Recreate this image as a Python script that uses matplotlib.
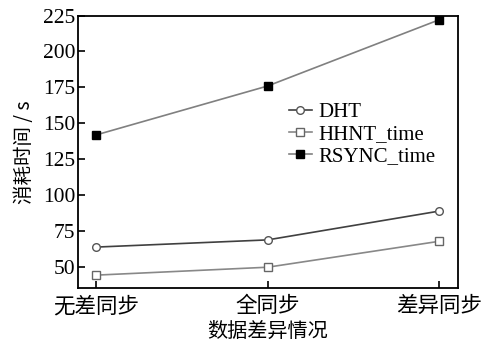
import matplotlib.pyplot as plt

# 数据
categories = ['无差同步', '全同步', '差异同步']
dht = [64, 69, 89]
hhnt_time = [44.5, 50, 68]
rsync_time = [142, 176, 222]
yticks = [50, 75, 100, 125, 150, 175, 200, 225]

plt.rcParams['font.family'] = ['Liberation Serif', 'Noto Sans CJK SC']
plt.rcParams['font.size'] = 14

fig, ax = plt.subplots(figsize=(4.95, 3.45), dpi=100)
fig.subplots_adjust(left=0.158, right=0.925, top=0.955, bottom=0.165)

x = range(len(categories))
ax.plot(x, dht, color='#404040', lw=1.2, marker='o', ms=5.5,
        mfc='white', mec='#555555', label='DHT')
ax.plot(x, hhnt_time, color='#888888', lw=1.2, marker='s', ms=5.5,
        mfc='white', mec='#666666', label='HHNT_time')
ax.plot(x, rsync_time, color='#808080', lw=1.2, marker='s', ms=6,
        mfc='black', mec='black', label='RSYNC_time')

ax.set_xlim(-0.105, 2.11)
ax.set_ylim(35.5, 225)
ax.set_xticks(list(x))
ax.set_xticklabels(categories, fontsize=14, family=['Noto Sans CJK SC'])
ax.set_yticks(yticks)
ax.tick_params(direction='in', length=5, width=1.2, labelsize=15.5, pad=2)
ax.tick_params(axis='x', pad=5)
for s in ax.spines.values():
    s.set_linewidth(1.3)

ax.set_xlabel('数据差异情况', fontsize=14.5, family=['Noto Sans CJK SC'], labelpad=3)
ax.set_ylabel('消耗时间 / s', fontsize=14, family=['Noto Sans CJK SC', 'DejaVu Sans'], labelpad=6)

ax.legend(loc='center left', bbox_to_anchor=(0.555, 0.564), frameon=False,
          handlelength=1.1, handletextpad=0.3, labelspacing=0.12, fontsize=15,
          borderaxespad=0, borderpad=0)

plt.savefig('out.png', dpi=100)
